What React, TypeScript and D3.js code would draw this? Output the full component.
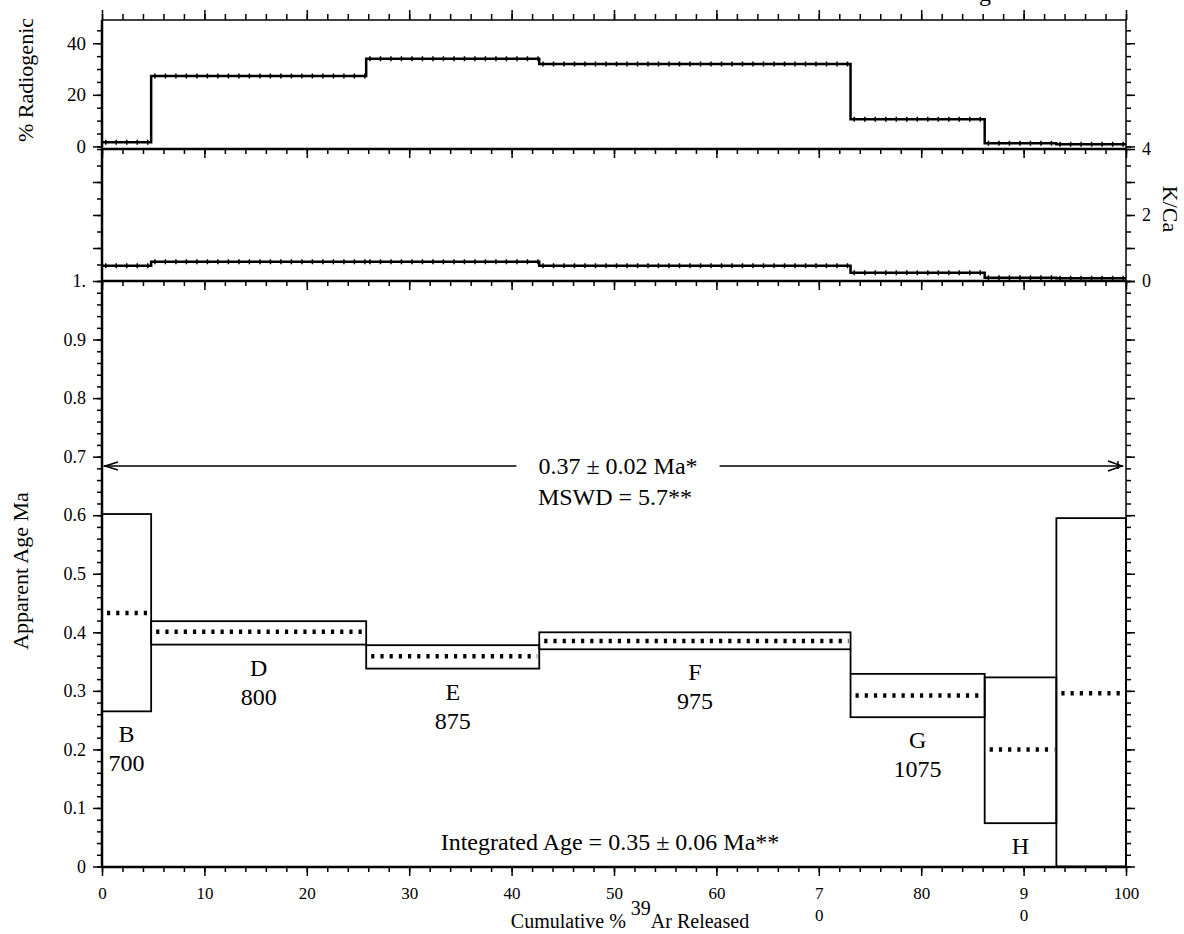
import React, { useEffect, useRef } from "react";
import * as d3 from "d3";

// heating steps (left to right)
const stepNames = ["B", "D", "E", "F", "G", "H", ""];
const stepTemps = ["700", "800", "875", "975", "1075", "", ""];
const cumBounds = [0, 4.8, 25.8, 42.7, 73.1, 86.2, 93.2, 100];

// apparent age (Ma): mean and 2 sigma box
const ageMid = [0.433, 0.401, 0.359, 0.385, 0.292, 0.2, 0.296];
const ageHigh = [0.602, 0.419, 0.378, 0.4, 0.329, 0.323, 0.595];
const ageLow = [0.265, 0.379, 0.338, 0.371, 0.255, 0.074, 0.0];

// % radiogenic and K/Ca per step
const radiogenic = [1.6, 27.3, 34.0, 31.9, 10.5, 1.2, 0.8];
const kCa = [0.46, 0.58, 0.58, 0.46, 0.25, 0.1, 0.08];

const xTicks = [0, 10, 20, 30, 40, 50, 60, 70, 80, 90, 100];
const radTicks = [0, 20, 40];
const kcaTicks = [0, 2, 4];
const ageTicks = [0, 0.1, 0.2, 0.3, 0.4, 0.5, 0.6, 0.7, 0.8, 0.9, 1];
const ageTickLabels = ["0", "0.1", "0.2", "0.3", "0.4", "0.5", "0.6", "0.7", "0.8", "0.9", "1."];

const plateauLevel = 0.684;
const plateauText = "0.37 \u00b1 0.02 Ma*";
const mswdText = "MSWD = 5.7**";
const integratedText = "Integrated Age = 0.35 \u00b1 0.06 Ma**";

const font = "'Liberation Serif', 'Times New Roman', serif";

const App = () => {
  const svgRef = useRef<SVGSVGElement>(null);

  useEffect(() => {
    const svg = d3.select(svgRef.current);
    svg.selectAll("*").remove();

    const left = 102,
      right = 1126;
    const topY = 20,
      radBottom = 149,
      kBottom = 281,
      ageBottom = 867;

    const x = d3.scaleLinear().domain([0, 100]).range([left, right]);
    const yRad = d3.scaleLinear().domain([-1, 49]).range([radBottom, topY]);
    const yK = d3.scaleLinear().domain([0, 4]).range([kBottom, radBottom]);
    const yAge = d3.scaleLinear().domain([0, 1]).range([866.5, kBottom]);

    const drawTicks = (
      axis: any,
      tx: number,
      ty: number,
      values: number[],
      size: number,
      fmt?: (d: any, i: number) => string,
      pad = 3,
      fontSize = 18
    ) => {
      const g = svg.append("g").attr("transform", `translate(${tx},${ty})`);
      g.call(
        axis
          .tickValues(values)
          .tickSize(size)
          .tickSizeOuter(0)
          .tickPadding(pad)
          .tickFormat(fmt || (() => ""))
      );
      g.select(".domain").remove();
      g.selectAll(".tick line").attr("stroke", "#000").attr("stroke-width", 1.5);
      g.selectAll(".tick text")
        .attr("fill", "#000")
        .attr("font-size", fontSize)
        .attr("font-family", font);
      return g;
    };

    const xMinor = d3.range(0, 101, 2);

    // x ticks on every horizontal border
    drawTicks(d3.axisTop(x), 0, topY, xMinor, 6);
    drawTicks(d3.axisTop(x), 0, topY, xTicks, 10);
    drawTicks(d3.axisBottom(x), 0, radBottom, xMinor, 5);
    drawTicks(d3.axisBottom(x), 0, radBottom, xTicks, 9);
    drawTicks(d3.axisBottom(x), 0, kBottom, xMinor, 5);
    drawTicks(d3.axisBottom(x), 0, kBottom, xTicks, 9);
    drawTicks(d3.axisBottom(x), 0, ageBottom, xMinor, 5);
    const xLab = drawTicks(d3.axisBottom(x), 0, ageBottom, xTicks, 9, (d) => String(d), 11, 17);
    xLab.selectAll(".tick text").each(function (d: any) {
      if (d === 70 || d === 90) {
        const t = d3.select(this);
        const s = String(d);
        t.text(null);
        t.append("tspan").attr("x", 0).text(s[0]);
        t.append("tspan").attr("x", 0).attr("dy", "1.3em").text(s[1]);
      }
    });

    // % radiogenic axes
    const radMinor = d3.range(0, 50, 5);
    drawTicks(d3.axisLeft(yRad), left, 0, radMinor, 5);
    drawTicks(d3.axisLeft(yRad), left, 0, radTicks, 9, (d) => String(d), 7, 19);
    drawTicks(d3.axisRight(yRad), right, 0, radMinor, 5);
    drawTicks(d3.axisRight(yRad), right, 0, radTicks, 9);

    // K/Ca axes
    const kMinor = d3.range(0, 9).map((i) => i / 2);
    drawTicks(d3.axisLeft(yK), left, 0, kMinor, 5);
    drawTicks(d3.axisLeft(yK), left, 0, [1, 2, 3], 9);
    drawTicks(d3.axisRight(yK), right, 0, kMinor, 5);
    drawTicks(d3.axisRight(yK), right, 0, [1, 3], 9);
    drawTicks(d3.axisRight(yK), right, 0, kcaTicks, 9, (d) => String(d), 7);

    // age axes
    const ageMinor = d3.range(0, 51).map((i) => i / 50);
    drawTicks(d3.axisLeft(yAge), left, 0, ageMinor, 5);
    drawTicks(d3.axisLeft(yAge), left, 0, ageTicks, 9, (d, i) => ageTickLabels[i], 7);
    drawTicks(d3.axisRight(yAge), right, 0, ageMinor, 5);
    drawTicks(d3.axisRight(yAge), right, 0, ageTicks, 9);

    // frame
    const frame = svg.append("g").attr("stroke", "#000").attr("fill", "none");
    frame.append("line").attr("x1", left).attr("x2", right).attr("y1", topY).attr("y2", topY).attr("stroke-width", 1.5);
    [radBottom, kBottom, ageBottom].forEach((yy) => {
      frame.append("line").attr("x1", left).attr("x2", right).attr("y1", yy).attr("y2", yy).attr("stroke-width", 2.5);
    });
    frame.append("line").attr("x1", left).attr("x2", left).attr("y1", topY).attr("y2", ageBottom).attr("stroke-width", 2.5);
    frame.append("line").attr("x1", right).attr("x2", right).attr("y1", topY).attr("y2", ageBottom).attr("stroke-width", 1.5);

    // step spectra for % radiogenic and K/Ca
    const stepLine = (vals: number[], y: any) => {
      const pts: [number, number][] = cumBounds.map((b, i) => [b, vals[Math.min(i, vals.length - 1)]]);
      const line = d3
        .line<[number, number]>()
        .x((d) => x(d[0]))
        .y((d) => y(d[1]))
        .curve(d3.curveStepAfter);
      svg
        .append("path")
        .datum(pts)
        .attr("fill", "none")
        .attr("stroke", "#000")
        .attr("stroke-width", 2.5)
        .attr("d", line);
      vals.forEach((v, i) => {
        svg
          .append("line")
          .attr("x1", x(cumBounds[i]) + 3)
          .attr("x2", x(cumBounds[i + 1]))
          .attr("y1", y(v))
          .attr("y2", y(v))
          .attr("stroke", "#000")
          .attr("stroke-width", 5)
          .attr("stroke-dasharray", "1.5 9");
      });
    };
    stepLine(radiogenic, yRad);
    stepLine(kCa, yK);

    // age boxes
    const boxes = svg.append("g");
    ageMid.forEach((m, i) => {
      const x0 = x(cumBounds[i]);
      const x1 = x(cumBounds[i + 1]);
      boxes
        .append("rect")
        .attr("x", x0)
        .attr("y", yAge(ageHigh[i]))
        .attr("width", x1 - x0)
        .attr("height", yAge(ageLow[i]) - yAge(ageHigh[i]))
        .attr("fill", "none")
        .attr("stroke", "#000")
        .attr("stroke-width", 1.8);
      if (i > 0) {
        if (ageLow[i - 1] > ageHigh[i]) {
          boxes.append("line").attr("x1", x0).attr("x2", x0)
            .attr("y1", yAge(ageLow[i - 1])).attr("y2", yAge(ageHigh[i]))
            .attr("stroke", "#000").attr("stroke-width", 1.8);
        } else if (ageHigh[i - 1] < ageLow[i]) {
          boxes.append("line").attr("x1", x0).attr("x2", x0)
            .attr("y1", yAge(ageHigh[i - 1])).attr("y2", yAge(ageLow[i]))
            .attr("stroke", "#000").attr("stroke-width", 1.8);
        }
      }
      boxes
        .append("line")
        .attr("x1", x0 + 5)
        .attr("x2", x1 - 2)
        .attr("y1", yAge(m))
        .attr("y2", yAge(m))
        .attr("stroke", "#000")
        .attr("stroke-width", 4.5)
        .attr("stroke-dasharray", "3.2 6");
      const cx = (x0 + x1) / 2;
      if (stepNames[i]) {
        boxes.append("text").attr("x", cx).attr("y", yAge(ageLow[i]) + 31)
          .attr("text-anchor", "middle").attr("font-family", font).attr("font-size", 24)
          .text(stepNames[i]);
      }
      if (stepTemps[i]) {
        boxes.append("text").attr("x", cx).attr("y", yAge(ageLow[i]) + 60)
          .attr("text-anchor", "middle").attr("font-family", font).attr("font-size", 24)
          .text(stepTemps[i]);
      }
    });

    // plateau arrow and annotations
    const py = yAge(plateauLevel);
    const pText = svg.append("text").attr("x", 618).attr("y", py + 8)
      .attr("text-anchor", "middle").attr("font-family", font).attr("font-size", 24)
      .text(plateauText);
    const bb = (pText.node() as SVGTextElement).getBBox();
    const arrow = svg.append("g").attr("stroke", "#000").attr("stroke-width", 1.5).attr("fill", "none");
    arrow.append("line").attr("x1", x(0) + 2).attr("x2", bb.x - 22).attr("y1", py).attr("y2", py);
    arrow.append("line").attr("x1", bb.x + bb.width + 22).attr("x2", x(100) - 3).attr("y1", py).attr("y2", py);
    arrow.append("path").attr("d", `M${x(0) + 16},${py - 4}L${x(0) + 3},${py}L${x(0) + 16},${py + 4}`);
    arrow.append("path").attr("d", `M${x(100) - 18},${py - 5}L${x(100) - 4},${py}L${x(100) - 18},${py + 5}`);
    arrow.append("line").attr("x1", x(100) - 8).attr("x2", x(100) - 8).attr("y1", py - 5).attr("y2", py + 3);

    svg.append("text").attr("x", 615).attr("y", py + 39)
      .attr("text-anchor", "middle").attr("font-family", font).attr("font-size", 24)
      .text(mswdText);

    svg.append("text").attr("x", 610).attr("y", 850)
      .attr("text-anchor", "middle").attr("font-family", font).attr("font-size", 24)
      .text(integratedText);

    // axis titles
    svg.append("text").attr("transform", "translate(33,80) rotate(-90)")
      .attr("text-anchor", "middle").attr("font-family", font).attr("font-size", 22)
      .text("% Radiogenic");
    svg.append("text").attr("transform", "translate(28,571) rotate(-90)")
      .attr("text-anchor", "middle").attr("font-family", font).attr("font-size", 22)
      .text("Apparent Age Ma");
    svg.append("text").attr("transform", "translate(1163,209) rotate(90)")
      .attr("text-anchor", "middle").attr("font-family", font).attr("font-size", 22)
      .text("K/Ca");

    const xt = svg.append("text").attr("x", 630).attr("y", 928)
      .attr("text-anchor", "middle").attr("font-family", font).attr("font-size", 20);
    xt.append("tspan").text("Cumulative %\u00a0");
    xt.append("tspan").attr("dy", -13).text("39");
    xt.append("tspan").attr("dy", 13).text("Ar Released");

    // clipped title at the top edge
    svg.append("text").attr("x", 985).attr("y", 1)
      .attr("text-anchor", "middle").attr("font-family", font).attr("font-size", 24)
      .text("g");
  }, []);

  return (
    <svg
      ref={svgRef}
      width={1184}
      height={934}
      style={{ position: "absolute", left: 0, top: 0, background: "#fff" }}
    ></svg>
  );
};

export default App;
